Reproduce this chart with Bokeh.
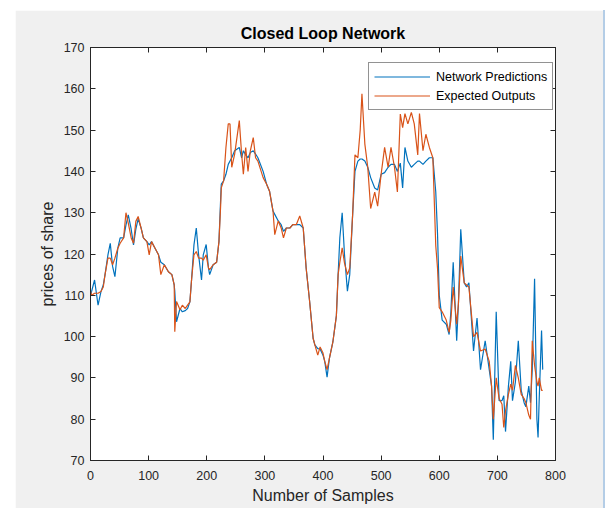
from bokeh.plotting import figure
from bokeh.models import LinearAxis, Range1d, FixedTicker, Legend, LegendItem, Spacer
from bokeh.layouts import row, column
from bokeh.embed import file_html
from bokeh.resources import INLINE

samples = [0, 2, 7, 13, 18, 22, 25, 30, 34, 38, 42, 47, 51, 57, 61, 65, 70, 74, 78, 82,
           87, 91, 97, 101, 105, 111, 117, 121, 127, 134, 140, 144, 145, 148, 154, 158, 163, 167, 171, 174,
           178, 182, 186, 191, 194, 199, 203, 205, 211, 217, 221, 224, 225, 229, 233, 237, 240, 243, 248, 256,
           260, 263, 267, 271, 275, 280, 284, 288, 297, 303, 308, 314, 317, 323, 328, 332, 337, 343, 348, 354,
           360, 366, 371, 377, 383, 386, 391, 395, 400, 403, 407, 411, 417, 423, 426, 429, 433, 437, 442, 446,
           451, 455, 460, 464, 467, 472, 477, 482, 489, 494, 500, 506, 512, 517, 523, 528, 533, 537, 541, 546,
           552, 557, 563, 566, 572, 577, 583, 589, 594, 597, 600, 605, 612, 617, 620, 624, 630, 633, 637, 643,
           647, 651, 655, 659, 665, 671, 679, 686, 690, 693, 698, 703, 708, 711, 714, 719, 723, 726, 731, 736,
           741, 746, 749, 754, 757, 760, 764, 768, 770, 772, 776, 778]

network_predictions = [110, 111, 113.7, 107.6, 110.9, 112.5, 115, 119.8, 122.6, 117, 114.5, 121.4, 123.9, 123.9, 127, 129.5, 126, 122.2, 126, 128.5,
                       126.3, 123.9, 123, 122.2, 123, 121.4, 119.8, 118, 117.4, 115.7, 115, 112.5, 111, 103.6, 106.8, 106, 106.3, 106.8, 108.4, 114,
                       122.2, 126.3, 119.8, 113.7, 119.8, 122.3, 116.6, 115, 117.4, 118, 123, 133.6, 136.9, 137.7, 139.3, 141.7, 142.5, 143.3, 145, 145.8,
                       143.3, 145, 144, 143.3, 144.6, 145, 144.2, 143.3, 140, 136.9, 135.2, 130.4, 129.6, 128, 127.1, 125.5, 126.3, 126.3, 127.1, 127.1,
                       127.1, 126.3, 116.6, 108.5, 99.6, 98, 97.1, 97, 95.5, 94, 90.2, 94.7, 98.7, 105, 115, 124, 130, 119.8, 111, 115,
                       129.6, 140, 142.5, 143, 143, 142.5, 141, 138.5, 136, 135.5, 139.3, 139.7, 141, 141.7, 141.7, 140, 142, 136, 145.8, 142.5,
                       141, 141.7, 142.5, 142.5, 141.7, 142.5, 143.3, 143.3, 135, 125, 110, 104, 103, 100.5, 106, 118, 99, 108, 126, 113,
                       112, 113, 105, 96.5, 104.5, 92, 99, 92, 88, 75, 106, 84.5, 84.5, 85.7, 77, 88, 94, 84.5, 89, 99,
                       87, 84, 83, 88, 84, 92, 114, 80, 75.6, 85, 101.5, 92]

expected_outputs = [111, 110, 110.5, 110.5, 110.9, 112, 115, 119, 119, 117.4, 119, 121.4, 122.6, 123.9, 130, 127.5, 123.9, 122.6, 127.9, 129.1,
                    126.3, 123.9, 123, 119.8, 123, 121.4, 119.8, 115, 117.4, 115.7, 115, 112.5, 101.2, 108.5, 106.5, 107.6, 106.8, 107.6, 108.4, 114,
                    119.8, 120.6, 119, 119, 118.5, 119.8, 116.6, 116.2, 117.4, 118, 123, 132, 136, 137.7, 145.8, 151.5, 151.5, 141, 144.2, 152.3,
                    144.2, 139.3, 145.8, 140, 145, 148.2, 143.3, 142.5, 138.5, 136.9, 135.2, 130.4, 124.7, 128, 126.3, 123.9, 126.3, 126.3, 127.1, 127.1,
                    129.2, 126.3, 116.6, 108.5, 99.6, 98, 95.5, 97.5, 96, 94, 92, 94.7, 98.7, 105, 115, 118, 121.5, 117.8, 115, 116.6,
                    129.6, 144, 143.3, 150, 158.8, 146.6, 141, 131, 135, 131.6, 139.3, 145.8, 141, 145.8, 141, 135, 153.9, 150.6, 154, 151.5,
                    154.3, 151.5, 144, 154, 145, 149, 145.8, 143.3, 122, 116.6, 107, 106, 104, 101, 104, 112, 103, 108, 119.5, 113,
                    112.5, 112, 106, 100, 101, 96.5, 97, 94, 88, 80, 90, 85, 83.6, 78, 82, 86, 88.5, 87, 93, 90,
                    86, 85, 84, 81, 80, 99, 93, 89, 88, 90, 87, 87]

x_ticks = [0, 100, 200, 300, 400, 500, 600, 700, 800]
y_ticks = [70, 80, 90, 100, 110, 120, 130, 140, 150, 160, 170]

FONT = "Liberation Sans"
AX = "#262626"

p = figure(width=588, height=498, output_backend="svg", toolbar_location=None,
           x_range=Range1d(0, 800), y_range=Range1d(70, 170),
           min_border_left=75, min_border_right=48, min_border_top=37, min_border_bottom=48)
p.border_fill_color = "#f0f0f0"
p.background_fill_color = "white"
p.outline_line_color = AX
p.outline_line_width = 1
p.grid.visible = False

p.title.text = "Closed Loop Network"
p.title.align = "center"
p.title.text_font = FONT
p.title.text_font_size = "16px"
p.title.text_font_style = "bold"
p.title.text_color = "black"
p.title.standoff = 11

blue = p.line(samples, network_predictions, line_color="#0072BD", line_width=1.2)
orange = p.line(samples, expected_outputs, line_color="#D95319", line_width=1.2)

def style_axis(ax, labels=True):
    ax.axis_line_color = AX
    ax.major_tick_line_color = AX
    ax.major_tick_in = 5
    ax.major_tick_out = 0
    ax.minor_tick_line_color = None
    ax.major_label_text_font = FONT
    ax.major_label_text_font_size = "12.5px"
    ax.major_label_text_color = AX
    if not labels:
        ax.major_label_text_color = None
        ax.major_label_standoff = 0

p.xaxis.ticker = FixedTicker(ticks=x_ticks)
p.yaxis.ticker = FixedTicker(ticks=y_ticks)
style_axis(p.xaxis[0])
style_axis(p.yaxis[0])
p.xaxis.major_label_standoff = 10
p.yaxis.major_label_standoff = 6

p.xaxis.axis_label = "Number of Samples"
p.yaxis.axis_label = "prices of share"
for ax in (p.xaxis[0], p.yaxis[0]):
    ax.axis_label_text_font = FONT
    ax.axis_label_text_font_size = "16px"
    ax.axis_label_text_font_style = "normal"
    ax.axis_label_text_color = AX
p.xaxis.axis_label_standoff = 4
p.yaxis.axis_label_standoff = 5

top = LinearAxis(ticker=FixedTicker(ticks=x_ticks))
right = LinearAxis(ticker=FixedTicker(ticks=y_ticks))
style_axis(top, labels=False)
style_axis(right, labels=False)
p.add_layout(top, "above")
p.add_layout(right, "right")

legend = Legend(items=[LegendItem(label="Network Predictions", renderers=[blue]),
                       LegendItem(label="Expected Outputs", renderers=[orange])],
                location=(278, 350))
legend.label_text_font = FONT
legend.label_text_font_size = "12.5px"
legend.label_text_color = "black"
legend.glyph_width = 56
legend.glyph_height = 17
legend.label_height = 17
legend.label_standoff = 6
legend.padding = 5
legend.spacing = 2
legend.margin = 0
legend.border_line_color = AX
legend.border_line_width = 1
legend.background_fill_color = "white"
legend.background_fill_alpha = 1
p.add_layout(legend, "center")

edge = Spacer(width=2, height=498, styles={"background-color": "#b4cde6"})
layout = row(Spacer(width=15, height=10), column(Spacer(width=10, height=10), row(p, edge)))

open("out.html", "w").write(file_html(layout, INLINE))
